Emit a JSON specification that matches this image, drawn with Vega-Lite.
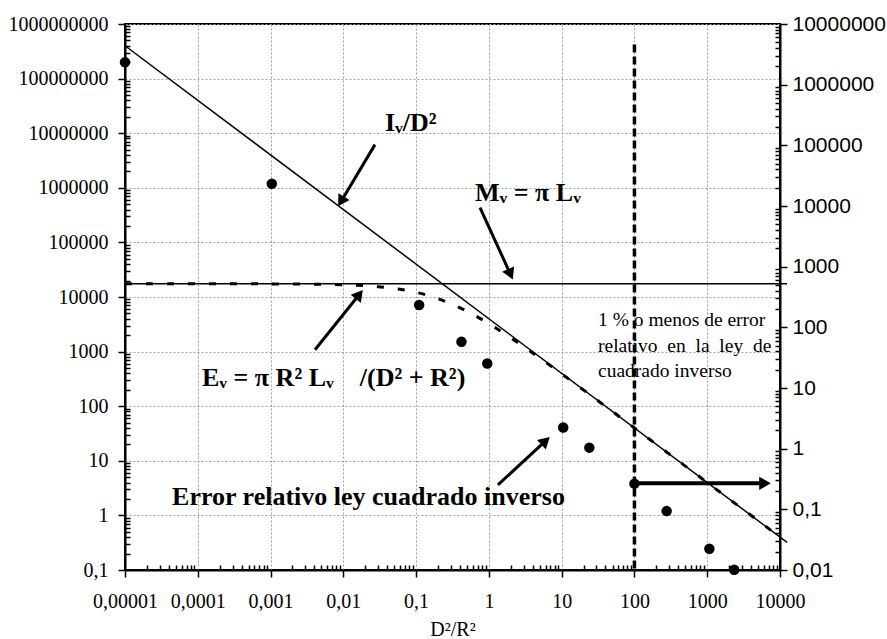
{
  "$schema": "https://vega.github.io/schema/vega-lite/v6.json",
  "width": 655,
  "height": 546,
  "autosize": "none",
  "padding": {"left": 125, "top": 24, "right": 107, "bottom": 69},
  "background": "white",
  "config": {
    "view": {"stroke": "black", "strokeWidth": 2},
    "axis": {"domainColor": "black", "domainWidth": 2, "tickColor": "black", "tickWidth": 1.5, "labelColor": "black", "titleColor": "black"}
  },
  "datasets": {
    "inv": [{"x": 0.00001, "y": 400000000}, {"x": 12500, "y": 0.32}],
    "mv": [{"x": 0.00001, "y": 17500}, {"x": 12500, "y": 17500}],
    "ev": [
      {"x": 0.00001, "y": 17470}, {"x": 0.0001, "y": 17460}, {"x": 0.001, "y": 17390},
      {"x": 0.01, "y": 16740}, {"x": 0.03, "y": 15440}, {"x": 0.06, "y": 13840},
      {"x": 0.1, "y": 12160}, {"x": 0.2, "y": 9320}, {"x": 0.3, "y": 7560},
      {"x": 0.5, "y": 5490}, {"x": 1, "y": 3250}, {"x": 2, "y": 1795},
      {"x": 3, "y": 1239}, {"x": 5, "y": 765}, {"x": 10, "y": 391},
      {"x": 30, "y": 132.3}, {"x": 100, "y": 39.9}, {"x": 1000, "y": 4.0}, {"x": 10000, "y": 0.4}
    ],
    "vline": [{"x": 100, "y": 420000000}, {"x": 100, "y": 0.1}],
    "arrows": [
      {"x": 0.0272, "y": 6180000, "x2": 0.00931, "y2": 562000},
      {"x": 0.755, "y": 433000, "x2": 1.98, "y2": 26100},
      {"x": 0.00408, "y": 1079, "x2": 0.01656, "y2": 11140},
      {"x": 1.33, "y": 3.61, "x2": 6.01, "y2": 23.1}
    ],
    "harrow": [{"x": 100, "y": 3.86, "x2": 6220}],
    "labels": [
      {"x": 0.0373, "y": 15600000, "t": "Iᵥ/D²"},
      {"x": 0.644, "y": 815000, "t": "Mᵥ = π Lᵥ"},
      {"x": 0.000114, "y": 331, "t": "Eᵥ = π R² Lᵥ\u00a0\u00a0\u00a0\u00a0/(D² + R²)"},
      {"x": 0.0000443, "y": 2.18, "t": "Error relativo ley cuadrado inverso"}
    ],
    "note": [
      {"x": 31.6, "y": 3830, "t": "1 % o menos de error"},
      {"x": 31.6, "y": 1276, "t": "relativo\u00a0\u00a0en\u00a0\u00a0la\u00a0\u00a0ley\u00a0\u00a0de"},
      {"x": 31.6, "y": 445, "t": "cuadrado inverso"}
    ],
    "err": [
      {"x": 0.00001, "y": 2340000}, {"x": 0.00104, "y": 23200}, {"x": 0.11, "y": 233},
      {"x": 0.42, "y": 58}, {"x": 0.95, "y": 25.4}, {"x": 10.5, "y": 2.23},
      {"x": 24, "y": 1.04}, {"x": 100, "y": 0.265}, {"x": 277, "y": 0.0935},
      {"x": 1070, "y": 0.0224}, {"x": 2350, "y": 0.0101}
    ]
  },
  "layer": [
    {
      "data": {"name": "inv"},
      "mark": {"type": "line", "color": "black", "strokeWidth": 1.5, "clip": false},
      "encoding": {
        "x": {
          "field": "x", "type": "quantitative",
          "scale": {"type": "log", "domain": [0.00001, 10000], "nice": false, "zero": false},
          "axis": {
            "values": [0.00001,0.00002,0.00003,0.00004,0.00005,0.00006,0.00007,0.00008,0.00009,0.0001,0.0002,0.0003,0.0004,0.0005,0.0006,0.0007,0.0008,0.0009,0.001,0.002,0.003,0.004,0.005,0.006,0.007,0.008,0.009,0.01,0.02,0.03,0.04,0.05,0.06,0.07,0.08,0.09,0.1,0.2,0.3,0.4,0.5,0.6,0.7,0.8,0.9,1,2,3,4,5,6,7,8,9,10,20,30,40,50,60,70,80,90,100,200,300,400,500,600,700,800,900,1000,2000,3000,4000,5000,6000,7000,8000,9000,10000],
            "title": "D²/R²",
            "titleFont": "Liberation Serif", "titleFontSize": 20, "titleFontWeight": "normal", "titlePadding": 8,
            "labelFont": "Liberation Serif", "labelFontSize": 20, "labelPadding": 14,
            "labelFlush": false, "labelOverlap": false,
            "labelExpr": "abs(log(datum.value)/LN10 - round(log(datum.value)/LN10)) < 0.001 ? (datum.value < 1 ? replace(toString(datum.value), '.', ',') : format(datum.value, 'd')) : ''",
            "tickSize": {"condition": {"test": "abs(log(datum.value)/LN10 - round(log(datum.value)/LN10)) < 0.001", "value": 7}, "value": -5},
            "grid": true, "gridDash": [2, 2], "gridWidth": 1,
            "gridColor": {"condition": {"test": "abs(log(datum.value)/LN10 - round(log(datum.value)/LN10)) < 0.001", "value": "#a0a0a0"}, "value": "transparent"}
          }
        },
        "y": {
          "field": "y", "type": "quantitative",
          "scale": {"type": "log", "domain": [0.1, 1000000000], "nice": false},
          "axis": {
            "orient": "left",
            "values": [0.1,0.2,0.3,0.4,0.5,0.6,0.7,0.8,0.9,1,2,3,4,5,6,7,8,9,10,20,30,40,50,60,70,80,90,100,200,300,400,500,600,700,800,900,1000,2000,3000,4000,5000,6000,7000,8000,9000,10000,20000,30000,40000,50000,60000,70000,80000,90000,100000,200000,300000,400000,500000,600000,700000,800000,900000,1000000,2000000,3000000,4000000,5000000,6000000,7000000,8000000,9000000,10000000,20000000,30000000,40000000,50000000,60000000,70000000,80000000,90000000,100000000,200000000,300000000,400000000,500000000,600000000,700000000,800000000,900000000,1000000000],
            "title": null,
            "labelFont": "Liberation Serif", "labelFontSize": 20, "labelPadding": 10,
            "labelFlush": false, "labelOverlap": false,
            "labelExpr": "abs(log(datum.value)/LN10 - round(log(datum.value)/LN10)) < 0.001 ? (datum.value < 1 ? replace(toString(datum.value), '.', ',') : format(datum.value, 'd')) : ''",
            "tickSize": {"condition": {"test": "abs(log(datum.value)/LN10 - round(log(datum.value)/LN10)) < 0.001", "value": 7}, "value": -5},
            "grid": true, "gridDash": [2, 2], "gridWidth": 1,
            "gridColor": {"condition": {"test": "abs(log(datum.value)/LN10 - round(log(datum.value)/LN10)) < 0.001", "value": "#a0a0a0"}, "value": "transparent"}
          }
        }
      }
    },
    {
      "data": {"name": "mv"},
      "mark": {"type": "line", "color": "black", "strokeWidth": 1.5, "clip": false},
      "encoding": {
        "x": {"field": "x", "type": "quantitative", "scale": {"type": "log", "domain": [0.00001, 10000], "nice": false, "zero": false}},
        "y": {"field": "y", "type": "quantitative", "scale": {"type": "log", "domain": [0.1, 1000000000], "nice": false}, "axis": null}
      }
    },
    {
      "data": {"name": "ev"},
      "mark": {"type": "line", "color": "black", "strokeWidth": 3, "strokeDash": [7, 14], "interpolate": "monotone"},
      "encoding": {
        "x": {"field": "x", "type": "quantitative", "scale": {"type": "log", "domain": [0.00001, 10000], "nice": false, "zero": false}},
        "y": {"field": "y", "type": "quantitative", "scale": {"type": "log", "domain": [0.1, 1000000000], "nice": false}, "axis": null}
      }
    },
    {
      "data": {"name": "vline"},
      "mark": {"type": "line", "color": "black", "strokeWidth": 3.5, "strokeDash": [8, 4]},
      "encoding": {
        "x": {"field": "x", "type": "quantitative", "scale": {"type": "log", "domain": [0.00001, 10000], "nice": false, "zero": false}},
        "y": {"field": "y", "type": "quantitative", "scale": {"type": "log", "domain": [0.1, 1000000000], "nice": false}, "axis": null}
      }
    },
    {
      "data": {"name": "arrows"},
      "mark": {"type": "rule", "color": "black", "strokeWidth": 3},
      "encoding": {
        "x": {"field": "x", "type": "quantitative", "scale": {"type": "log", "domain": [0.00001, 10000], "nice": false, "zero": false}},
        "y": {"field": "y", "type": "quantitative", "scale": {"type": "log", "domain": [0.1, 1000000000], "nice": false}, "axis": null},
        "x2": {"field": "x2"},
        "y2": {"field": "y2"}
      }
    },
    {
      "data": {"name": "harrow"},
      "mark": {"type": "rule", "color": "black", "strokeWidth": 4},
      "encoding": {
        "x": {"field": "x", "type": "quantitative", "scale": {"type": "log", "domain": [0.00001, 10000], "nice": false, "zero": false}},
        "y": {"field": "y", "type": "quantitative", "scale": {"type": "log", "domain": [0.1, 1000000000], "nice": false}, "axis": null},
        "x2": {"field": "x2"}
      }
    },
    {
      "data": {"values": [{"x": 0.00931, "y": 562000}]},
      "mark": {"type": "point", "shape": "triangle-up", "angle": 210.8, "size": 170, "filled": true, "color": "black", "opacity": 1},
      "encoding": {
        "x": {"field": "x", "type": "quantitative", "scale": {"type": "log", "domain": [0.00001, 10000], "nice": false, "zero": false}},
        "y": {"field": "y", "type": "quantitative", "scale": {"type": "log", "domain": [0.1, 1000000000], "nice": false}, "axis": null}
      }
    },
    {
      "data": {"values": [{"x": 1.98, "y": 26100}]},
      "mark": {"type": "point", "shape": "triangle-up", "angle": 155.4, "size": 170, "filled": true, "color": "black", "opacity": 1},
      "encoding": {
        "x": {"field": "x", "type": "quantitative", "scale": {"type": "log", "domain": [0.00001, 10000], "nice": false, "zero": false}},
        "y": {"field": "y", "type": "quantitative", "scale": {"type": "log", "domain": [0.1, 1000000000], "nice": false}, "axis": null}
      }
    },
    {
      "data": {"values": [{"x": 0.01656, "y": 11140}]},
      "mark": {"type": "point", "shape": "triangle-up", "angle": 38.7, "size": 170, "filled": true, "color": "black", "opacity": 1},
      "encoding": {
        "x": {"field": "x", "type": "quantitative", "scale": {"type": "log", "domain": [0.00001, 10000], "nice": false, "zero": false}},
        "y": {"field": "y", "type": "quantitative", "scale": {"type": "log", "domain": [0.1, 1000000000], "nice": false}, "axis": null}
      }
    },
    {
      "data": {"values": [{"x": 6.01, "y": 23.1}]},
      "mark": {"type": "point", "shape": "triangle-up", "angle": 47.3, "size": 170, "filled": true, "color": "black", "opacity": 1},
      "encoding": {
        "x": {"field": "x", "type": "quantitative", "scale": {"type": "log", "domain": [0.00001, 10000], "nice": false, "zero": false}},
        "y": {"field": "y", "type": "quantitative", "scale": {"type": "log", "domain": [0.1, 1000000000], "nice": false}, "axis": null}
      }
    },
    {
      "data": {"values": [{"x": 6220, "y": 3.86}]},
      "mark": {"type": "point", "shape": "triangle-up", "angle": 90, "size": 180, "filled": true, "color": "black", "opacity": 1},
      "encoding": {
        "x": {"field": "x", "type": "quantitative", "scale": {"type": "log", "domain": [0.00001, 10000], "nice": false, "zero": false}},
        "y": {"field": "y", "type": "quantitative", "scale": {"type": "log", "domain": [0.1, 1000000000], "nice": false}, "axis": null}
      }
    },
    {
      "data": {"name": "labels"},
      "mark": {"type": "text", "align": "left", "baseline": "middle", "font": "Liberation Serif", "fontSize": 26, "fontWeight": "bold", "color": "black"},
      "encoding": {
        "x": {"field": "x", "type": "quantitative", "scale": {"type": "log", "domain": [0.00001, 10000], "nice": false, "zero": false}},
        "y": {"field": "y", "type": "quantitative", "scale": {"type": "log", "domain": [0.1, 1000000000], "nice": false}, "axis": null},
        "text": {"field": "t"}
      }
    },
    {
      "data": {"name": "note"},
      "mark": {"type": "text", "align": "left", "baseline": "middle", "font": "Liberation Serif", "fontSize": 19.5, "color": "black"},
      "encoding": {
        "x": {"field": "x", "type": "quantitative", "scale": {"type": "log", "domain": [0.00001, 10000], "nice": false, "zero": false}},
        "y": {"field": "y", "type": "quantitative", "scale": {"type": "log", "domain": [0.1, 1000000000], "nice": false}, "axis": null},
        "text": {"field": "t"}
      }
    },
    {
      "data": {"name": "err"},
      "mark": {"type": "point", "shape": "circle", "filled": true, "color": "black", "opacity": 1, "size": 110, "clip": false},
      "encoding": {
        "x": {"field": "x", "type": "quantitative", "scale": {"type": "log", "domain": [0.00001, 10000], "nice": false, "zero": false}},
        "y": {
          "field": "y", "type": "quantitative",
          "scale": {"type": "log", "domain": [0.01, 10000000], "nice": false},
          "axis": {
            "orient": "right",
            "values": [0.01,0.02,0.03,0.04,0.05,0.06,0.07,0.08,0.09,0.1,0.2,0.3,0.4,0.5,0.6,0.7,0.8,0.9,1,2,3,4,5,6,7,8,9,10,20,30,40,50,60,70,80,90,100,200,300,400,500,600,700,800,900,1000,2000,3000,4000,5000,6000,7000,8000,9000,10000,20000,30000,40000,50000,60000,70000,80000,90000,100000,200000,300000,400000,500000,600000,700000,800000,900000,1000000,2000000,3000000,4000000,5000000,6000000,7000000,8000000,9000000,10000000],
            "title": null,
            "labelFont": "Liberation Sans", "labelFontSize": 21, "labelPadding": 5,
            "labelFlush": false, "labelOverlap": false,
            "labelExpr": "abs(log(datum.value)/LN10 - round(log(datum.value)/LN10)) < 0.001 ? (datum.value < 1 ? replace(toString(datum.value), '.', ',') : format(datum.value, 'd')) : ''",
            "tickSize": {"condition": {"test": "abs(log(datum.value)/LN10 - round(log(datum.value)/LN10)) < 0.001", "value": 7}, "value": -5},
            "grid": false
          }
        }
      }
    }
  ],
  "resolve": {"scale": {"y": "independent"}}
}
